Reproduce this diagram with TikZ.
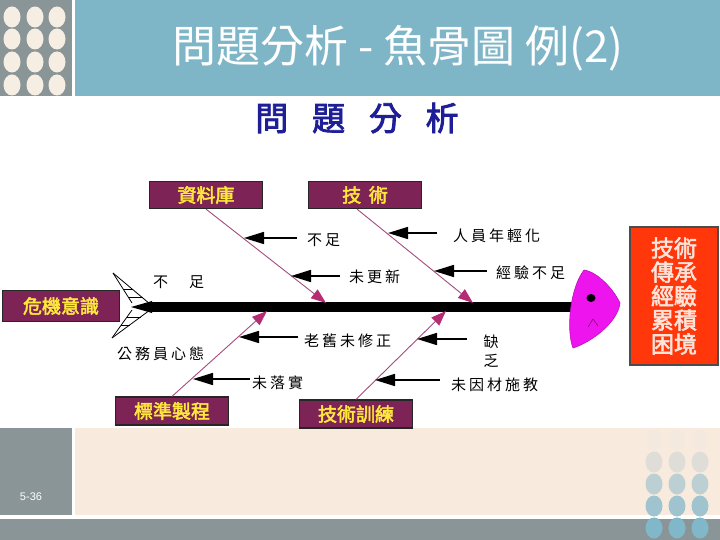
\documentclass[tikz,border=0pt]{standalone}
\usepackage{fontspec}
\usepackage{tikz}
\usetikzlibrary{arrows.meta}
\setsansfont{Liberation Sans}
\newfontfamily\cjk[AutoFakeBold=2.5]{Noto Sans CJK TC}
\newfontfamily\cjklab[LetterSpace=20]{Noto Sans CJK TC}
\definecolor{cSlate}{RGB}{138,149,152}
\definecolor{cSky}{RGB}{127,182,199}
\definecolor{cCream}{RGB}{248,235,222}
\definecolor{cDot}{RGB}{246,238,226}
\definecolor{cDot1}{RGB}{243,233,222}
\definecolor{cDot2}{RGB}{222,221,216}
\definecolor{cDot3}{RGB}{188,208,212}
\definecolor{cDot4}{RGB}{159,196,207}
\definecolor{cDot5}{RGB}{128,184,202}
\definecolor{cBox}{RGB}{125,35,85}
\definecolor{cGold}{RGB}{255,232,60}
\definecolor{cBone}{RGB}{165,75,125}
\definecolor{cTip}{RGB}{180,45,115}
\definecolor{cHead}{RGB}{238,20,238}
\definecolor{cRed}{RGB}{255,55,10}
\definecolor{cPale}{RGB}{255,228,218}
\definecolor{cNavy}{RGB}{30,30,150}

\begin{document}
\begin{tikzpicture}[x=1pt,y=-1pt,
  catbox/.style={draw=black!85,line width=1.2pt,fill=cBox,text=cGold,
    font=\cjk\bfseries\fontsize{19}{20}\selectfont,minimum width=113pt,minimum height=27pt,inner sep=0pt},
  lab/.style={anchor=west,inner sep=0pt,font=\cjklab\fontsize{15}{18}\selectfont},
  bone/.style={draw=cBone,line width=0.9pt,-{Triangle[length=15pt,width=11pt,color=cTip]}},
  cause/.style={draw=black,line width=1.6pt,-{Triangle[length=20pt,width=12pt]}},
  fin/.style={draw=black,line width=0.8pt},
  pip/.style={x radius=8.5,y radius=10.5}]
\useasboundingbox (0,0) rectangle (720,540);
\fill[white] (0,0) rectangle (720,540);
% header
\fill[cSlate] (0,0) rectangle (72,96);
\fill[cSky] (75,0) rectangle (720,96);
\fill[cDot] (12,17) ellipse[pip]; \fill[cDot] (35,17) ellipse[pip]; \fill[cDot] (57,17) ellipse[pip];
\fill[cDot] (12,39) ellipse[pip]; \fill[cDot] (35,39) ellipse[pip]; \fill[cDot] (57,39) ellipse[pip];
\fill[cDot] (12,62) ellipse[pip]; \fill[cDot] (35,62) ellipse[pip]; \fill[cDot] (57,62) ellipse[pip];
\fill[cDot] (12,85) ellipse[pip]; \fill[cDot] (35,85) ellipse[pip]; \fill[cDot] (57,85) ellipse[pip];
\node[text=white,font=\cjk\fontsize{44}{46}\selectfont] (ttl) at (398,48) {問題分析 - 魚骨圖 例(2)};
% footer
\fill[cSlate] (0,428) rectangle (72,515);
\fill[cCream] (75,428) rectangle (720,515);
\fill[cSlate] (0,519) rectangle (720,540);
\node[text=white,font=\sffamily\fontsize{11}{12}\selectfont] (pg) at (31,497) {5-36};
\fill[cDot1] (654,440) ellipse[pip]; \fill[cDot1] (677,440) ellipse[pip]; \fill[cDot1] (700,440) ellipse[pip];
\fill[cDot2] (654,462) ellipse[pip]; \fill[cDot2] (677,462) ellipse[pip]; \fill[cDot2] (700,462) ellipse[pip];
\fill[cDot3] (654,484) ellipse[pip]; \fill[cDot3] (677,484) ellipse[pip]; \fill[cDot3] (700,484) ellipse[pip];
\fill[cDot4] (654,506) ellipse[pip]; \fill[cDot4] (677,506) ellipse[pip]; \fill[cDot4] (700,506) ellipse[pip];
\fill[cDot5] (654,528) ellipse[pip]; \fill[cDot5] (677,528) ellipse[pip]; \fill[cDot5] (700,528) ellipse[pip];
% fishbone
\node[text=cNavy,font=\cjk\bfseries\fontsize{33}{36}\selectfont] (sub) at (357,118) {問\hspace{0.72em}題\hspace{0.72em}分\hspace{0.72em}析};
\coordinate (spl) at (150,307);
\coordinate (spr) at (578,307);
\draw[line width=10pt] (spl) -- (spr);
\fill (131,307) -- (152,301) -- (152,313) -- cycle;
\draw[fin] (113,273) -- (150,304);
\draw[fin] (113,273) -- (132,303);
\draw[fin] (123,289) -- (133,289);
\draw[fin] (128,297) -- (143,297);
\draw[fin] (112,338) -- (150,310);
\draw[fin] (112,338) -- (132,310);
\draw[fin] (127,317) -- (141,317);
\draw[fin] (121,325) -- (130,325);
\node[lab] (tl1) at (153,282) {不　足};
\node[lab] (tl2) at (117,354) {公務員心態};
% head
\filldraw[fill=cHead,draw=cHead!80!black,line width=0.6pt] (584,270) .. controls (598,272) and (614,290) .. (620,303)
  .. controls (618,322) and (592,342) .. (573,348) .. controls (566,330) and (570,288) .. (584,270) -- cycle;
\fill (591,298) ellipse[x radius=4.5,y radius=4];
\draw[cHead!55!black,line width=0.6pt] (588,327) -- (593,319) -- (598,326);
\node[draw=black!70,line width=1.5pt,fill=cRed,text=cPale,minimum width=88pt,minimum height=138pt,
  align=center,font=\cjk\bfseries\fontsize{23}{24}\selectfont] (res) at (674,296) {技術\\傳承\\經驗\\累積\\困境};
% categories
\node[catbox] (db) at (206,195) {資料庫};
\node[catbox] (js) at (365,195) {技\hspace{0.4em}術};
\node[catbox,minimum width=117pt,minimum height=31pt] (wj) at (61,306) {危機意識};
\node[catbox,minimum height=28pt] (bz) at (172,411) {標準製程};
\node[catbox,minimum height=28pt] (jx) at (356,414) {技術訓練};
\coordinate (b1) at (326,303);
\coordinate (b2) at (473,303);
\coordinate (b3) at (267,311);
\coordinate (b4) at (446,311);
\draw[bone] (db.south) -- (b1);
\draw[bone] ([xshift=-8]js.south) -- (b2);
\draw[bone] (bz.north) -- (b3);
\draw[bone] (jx.north) -- (b4);
% causes
\coordinate (t1) at (244,238); \coordinate (s1) at (297,238);
\coordinate (t2) at (291,276); \coordinate (s2) at (340,276);
\coordinate (t3) at (388,233); \coordinate (s3) at (437,233);
\coordinate (t4) at (434,271); \coordinate (s4) at (487,271);
\coordinate (t5) at (239,337); \coordinate (s5) at (298,337);
\coordinate (t6) at (193,379); \coordinate (s6) at (250,379);
\coordinate (t7) at (417,339); \coordinate (s7) at (467,339);
\coordinate (t8) at (375,380); \coordinate (s8) at (440,380);
\draw[cause] (s1) -- (t1);
\draw[cause] (s2) -- (t2);
\draw[cause] (s3) -- (t3);
\draw[cause] (s4) -- (t4);
\draw[cause] (s5) -- (t5);
\draw[cause] (s6) -- (t6);
\draw[cause] (s7) -- (t7);
\draw[cause] (s8) -- (t8);
\node[lab] (l1) at (307,240) {不足};
\node[lab] (l2) at (349,277) {未更新};
\node[lab] (l3) at (453,236) {人員年輕化};
\node[lab] (l4) at (496,273) {經驗不足};
\node[lab] (l5) at (304,341) {老舊未修正};
\node[lab] (l6) at (252,383) {未落實};
\node[inner sep=0pt,align=center,font=\cjk\fontsize{15}{19}\selectfont] (l7) at (491,351) {缺\\乏};
\node[lab] (l8) at (451,385) {未因材施教};
\end{tikzpicture}
\end{document}
